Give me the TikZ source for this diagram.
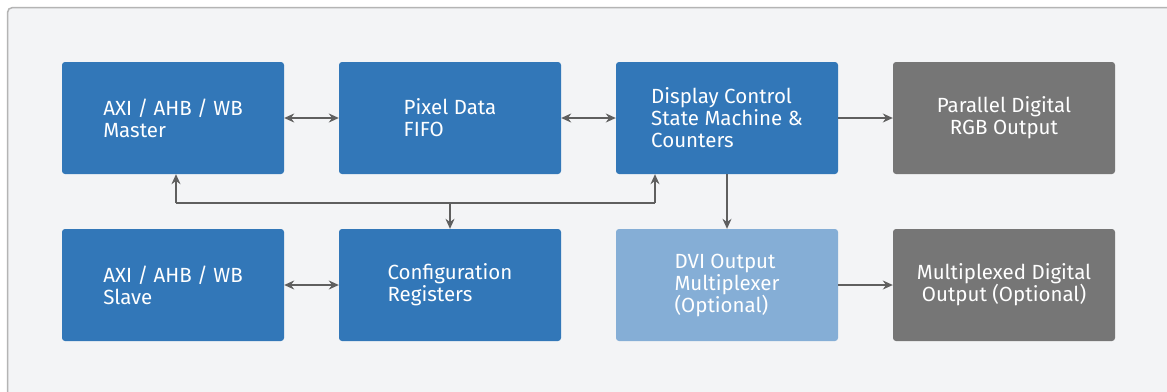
\documentclass[tikz,border=0pt]{standalone}
\usepackage{fontspec}
\setmainfont{Fira Sans}
\usetikzlibrary{arrows.meta}
\definecolor{bgc}{HTML}{F3F4F6}
\definecolor{framec}{HTML}{B4B4B4}
\definecolor{blu}{HTML}{3277B8}
\definecolor{lblu}{HTML}{85AED6}
\definecolor{gry}{HTML}{767676}
\definecolor{arrc}{HTML}{5F5F5F}
\tikzset{
  blk/.style={draw=none, fill=blu, text=white, rounded corners=3pt, minimum width=222pt, minimum height=112pt, inner sep=0pt, align=left, font=\fontsize{20.5}{22}\selectfont},
  lblk/.style={blk, fill=lblu},
  gblk/.style={blk, fill=gry, align=center},
  arr/.style={draw=arrc, line width=1.2pt, -{Stealth[length=10pt,width=9pt]}},
  dbl/.style={draw=arrc, line width=1.2pt, {Stealth[length=10pt,width=9pt]}-{Stealth[length=10pt,width=9pt]}},
  bus/.style={draw=arrc, line width=1.2pt}
}
\begin{document}
\begin{tikzpicture}[x=1pt,y=-1pt]
\useasboundingbox (0,0) rectangle (1167,391);
\clip (0,0) rectangle (1167,391);
\fill[white] (0,0) rectangle (1167,391);
\draw[draw=framec, fill=bgc, line width=1.5pt, rounded corners=5pt] (7.5,7.5) rectangle (1200,420);
\node[blk] (m) at (173,118) {AXI / AHB / WB\\Master};
\node[blk] (f) at (450,118) {Pixel Data\\FIFO};
\node[blk] (d) at (727,118) {Display Control\\State Machine \&\\Counters};
\node[gblk] (p) at (1004,118) {Parallel Digital\\RGB Output};
\node[blk] (s) at (173,285) {AXI / AHB / WB\\Slave};
\node[blk] (c) at (450,285) {Configuration\\Registers};
\node[lblk] (v) at (727,285) {DVI Output\\Multiplexer\\(Optional)};
\node[gblk] (x) at (1004,285) {Multiplexed Digital\\Output (Optional)};
\draw[dbl] (m.east) -- (f.west);
\draw[dbl] (f.east) -- (d.west);
\draw[arr] (d.east) -- (p.west);
\draw[arr] (d.south) -- (v.north);
\draw[arr] (v.east) -- (x.west);
\draw[dbl] (s.east) -- (c.west);
\coordinate (bus) at (450,203);
\coordinate (bl) at (176,203);
\coordinate (br) at (655,203);
\draw[bus] (bl) -- (br);
\draw[arr] (bus) -- (c.north);
\draw[arr] (bl) -- (bl |- m.south);
\draw[arr] (br) -- (br |- d.south);
\end{tikzpicture}
\end{document}
